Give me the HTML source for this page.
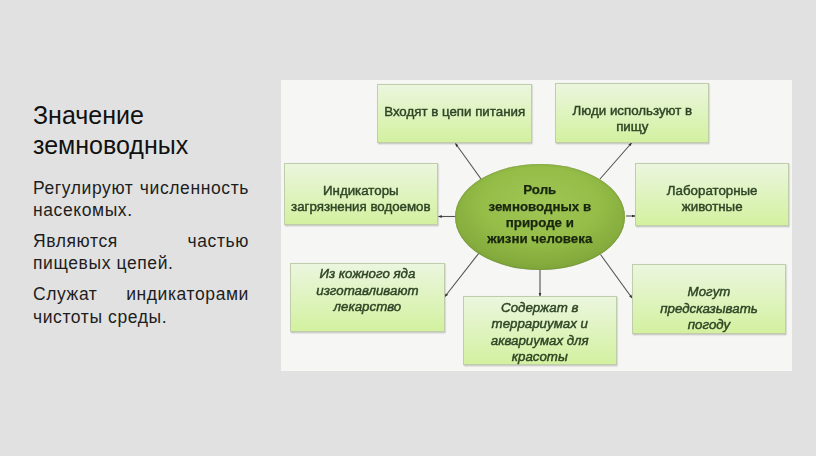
<!DOCTYPE html>
<html><head><meta charset="utf-8">
<style>
html,body{margin:0;padding:0}
body{width:816px;height:456px;overflow:hidden;position:relative;background:#e1e1e1;font-family:"Liberation Sans",sans-serif}
.t{position:absolute;left:33px;color:#111;font-size:25px;line-height:30px;white-space:nowrap}
.p{position:absolute;left:33px;width:216px;color:#1e1e1e;font-size:17.5px;line-height:21.4px;white-space:nowrap;letter-spacing:0.6px}
.j{text-align:justify;text-align-last:justify;white-space:normal}
#dg{position:absolute;left:281px;top:80px;width:511px;height:291px;background:#f6f6f5}
.b{position:absolute;box-sizing:border-box;border:1px solid #bfcdaa;background:linear-gradient(#ebf6de,#d3f1a0);box-shadow:0.5px 1px 1.5px rgba(50,60,30,.35)}
.bt{position:absolute;left:0;right:0;text-align:center;font-size:13.3px;line-height:16.4px;color:#2f4526;white-space:nowrap;-webkit-text-stroke:0.45px #2f4526;filter:blur(0.3px)}
.i{font-style:italic}
#el{position:absolute;left:454.8px;top:163.8px;width:170px;height:106.3px;border-radius:50%;background:radial-gradient(ellipse 75% 75% at 50% 38%,#a0c655 0%,#95bd48 45%,#84ab3c 75%,#72973a 100%);box-shadow:inset 0 0 1.5px rgba(70,90,30,.7)}
svg{position:absolute;left:0;top:0}
</style></head><body>
<div class="t" style="top:100px">Значение</div>
<div class="t" style="top:130px">земноводных</div>

<div class="p j" style="top:178px">Регулируют численность</div>
<div class="p" style="top:199.9px">насекомых.</div>
<div class="p j" style="top:230.9px">Являются частью</div>
<div class="p" style="top:253.2px">пищевых цепей.</div>
<div class="p j" style="top:283.9px">Служат индикаторами</div>
<div class="p" style="top:306.7px">чистоты среды.</div>

<div id="dg"></div>
<svg width="816" height="456">
<defs><marker id="ah" viewBox="0 0 10 10" refX="9" refY="5" markerWidth="3.2" markerHeight="3.2" orient="auto"><path d="M0,1L10,5L0,9z" fill="#333"/></marker></defs>
<g stroke="#525252" stroke-width="1.1" marker-end="url(#ah)">
<line x1="481" y1="179" x2="455.5" y2="143.5"/>
<line x1="600" y1="179" x2="631.5" y2="143"/>
<line x1="455" y1="216.5" x2="438.5" y2="216.5"/>
<line x1="626" y1="216" x2="635" y2="216"/>
<line x1="479" y1="253" x2="445" y2="296.5"/>
<line x1="540" y1="269" x2="540" y2="296"/>
<line x1="600.5" y1="254.5" x2="632" y2="298"/>
</g>
</svg>

<div class="b" style="left:377.3px;top:83.5px;width:154.7px;height:59.2px"></div>
<div class="bt" style="left:377.3px;width:154.7px;top:104.2px">Входят в цепи питания</div>
<div class="b" style="left:555.2px;top:83px;width:154.3px;height:59.6px"></div>
<div class="bt" style="left:555.2px;width:154.3px;top:103.1px;line-height:15.5px">Люди используют в<br>пищу</div>
<div class="b" style="left:283.7px;top:162.6px;width:154.3px;height:62.8px"></div>
<div class="bt" style="left:283.7px;width:154.3px;top:182.9px">Индикаторы<br>загрязнения водоемов</div>
<div class="b" style="left:635px;top:162.8px;width:154.4px;height:62.8px"></div>
<div class="bt" style="left:635px;width:154.4px;top:182.9px">Лабораторные<br>животные</div>
<div class="b" style="left:290.2px;top:262.8px;width:154.4px;height:69.4px"></div>
<div class="bt i" style="left:290.2px;width:154.4px;top:266.2px">Из кожного яда<br>изготавливают<br>лекарство</div>
<div class="b" style="left:462.6px;top:295.9px;width:154.3px;height:69.4px"></div>
<div class="bt i" style="left:462.6px;width:154.3px;top:300.1px;line-height:16.2px">Содержат в<br>террариумах и<br>аквариумах для<br>красоты</div>
<div class="b" style="left:631.8px;top:264.4px;width:154.4px;height:69.2px"></div>
<div class="bt i" style="left:631.8px;width:154.4px;top:284px;line-height:16.7px">Могут<br>предсказывать<br>погоду</div>

<div id="el"></div>
<div class="bt" style="left:454.8px;width:170px;top:182.4px;line-height:16.2px;font-weight:bold;color:#18250f;-webkit-text-stroke:0.25px #18250f">Роль<br>земноводных в<br>природе и<br>жизни человека</div>
</body></html>
